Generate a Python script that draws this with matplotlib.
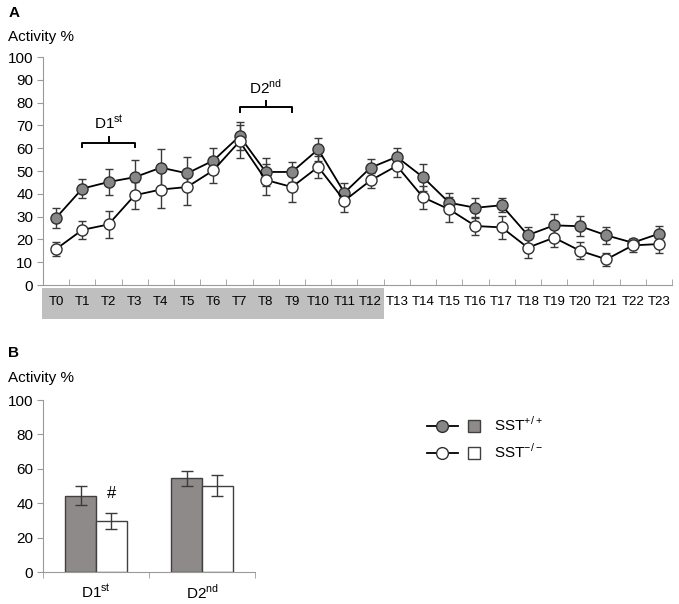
import matplotlib
matplotlib.use("Agg")
import matplotlib.pyplot as plt
import numpy as np
from matplotlib.lines import Line2D
from matplotlib.patches import Rectangle
from matplotlib.legend_handler import HandlerTuple
import matplotlib.transforms as mtransforms

plt.rcParams["font.family"] = ["Liberation Sans", "DejaVu Sans"]
plt.rcParams["mathtext.fontset"] = "custom"
plt.rcParams["mathtext.rm"] = "Liberation Sans"

# time points T0..T23
hours = [f"T{i}" for i in range(24)]
wt_mean = [29.5, 42.3, 45.2, 47.3, 51.5, 49.0, 54.6, 65.3, 49.6, 49.6, 59.5, 40.5,
           51.5, 56.2, 47.3, 36.1, 33.9, 35.0, 21.9, 26.2, 25.8, 21.8, 18.6, 22.5]
wt_err = [4.4, 4.2, 5.6, 7.5, 8.0, 7.0, 5.4, 6.2, 6.0, 4.2, 5.0, 4.4,
          4.0, 3.8, 6.0, 4.4, 4.4, 3.0, 3.7, 5.0, 4.4, 3.7, 1.5, 3.4]
ko_mean = [15.8, 24.2, 26.6, 39.4, 41.9, 43.0, 50.3, 63.0, 46.1, 43.0, 51.8, 37.0,
           45.9, 52.3, 38.5, 33.2, 25.9, 25.3, 16.4, 20.8, 15.0, 11.3, 17.4, 18.0]
ko_err = [3.2, 4.0, 5.8, 6.0, 8.0, 7.7, 5.7, 7.2, 6.8, 6.6, 5.0, 5.0,
          3.2, 4.8, 5.0, 5.4, 4.0, 5.0, 4.5, 4.0, 3.7, 2.8, 2.9, 4.0]
shaded_until = 12          # grey band under T0..T12
d1_range = (1, 3)          # D1st = T1..T3
d2_range = (7, 9)          # D2nd = T7..T9

# bar summary
periods = [r"D1$^{\mathregular{st}}$", r"D2$^{\mathregular{nd}}$"]
bar_wt = [44.5, 54.5]
bar_wt_err = [5.4, 4.4]
bar_ko = [30.0, 50.3]
bar_ko_err = [4.6, 6.0]

DOT_GREY = "#878787"
BAR_GREY = "#8f8a8a"
ERR_COL = "#3a3a3a"
SPINE = "#9a9a9a"

fig = plt.figure(figsize=(6.79, 6.04), dpi=100)

# ---------------- panel A ----------------
ax = fig.add_axes([0.0633, 0.528, 0.9264, 0.3776])
x = np.arange(len(hours))
ax.errorbar(x, wt_mean, yerr=wt_err, fmt="none", ecolor=ERR_COL, elinewidth=1, capsize=3, zorder=2)
ax.errorbar(x, ko_mean, yerr=ko_err, fmt="none", ecolor=ERR_COL, elinewidth=1, capsize=3, zorder=2)
ax.plot(x, wt_mean, "-o", color="black", lw=1.3, ms=8, mfc=DOT_GREY, mec="#303030", mew=1, zorder=3)
ax.plot(x, ko_mean, "-o", color="black", lw=1.3, ms=8, mfc="white", mec="#303030", mew=1, zorder=3)

ax.set_xlim(-0.5, len(hours) - 0.5)
ax.set_ylim(0, 100)
ax.set_yticks(range(0, 101, 10))
ax.set_xticks(x)
ax.set_xticklabels(hours, fontsize=9.5)
ax.set_xticks(np.arange(-0.5, len(hours)), minor=True)
ax.tick_params(axis="x", which="major", length=0, pad=8)
ax.tick_params(axis="x", which="minor", direction="in", length=4, color=SPINE)
ax.tick_params(axis="y", labelsize=11, length=4, color=SPINE, pad=3)
for s in ["top", "right"]:
    ax.spines[s].set_visible(False)
for s in ["left", "bottom"]:
    ax.spines[s].set_color(SPINE)

band = mtransforms.blended_transform_factory(ax.transData, ax.transAxes)
ax.add_patch(Rectangle((-0.55, -0.148), shaded_until + 1.05, 0.135, transform=band,
                       facecolor="#bfbfbf", edgecolor="none", clip_on=False, zorder=0))

def bracket(a, b, y, label):
    mid = (a + b) / 2
    ax.plot([a, a, b, b], [y - 2, y, y, y - 2], color="black", lw=1.4, clip_on=False)
    ax.plot([mid, mid], [y, y + 2.5], color="black", lw=1.4)
    ax.text(mid, y + 8.5, label, ha="center", va="center", fontsize=11)

bracket(*d1_range, 62.5, periods[0])
bracket(*d2_range, 78.0, periods[1])

fig.text(0.012, 0.978, "A", fontsize=11, fontweight="bold", va="center")
fig.text(0.012, 0.938, "Activity %", fontsize=11, va="center")

# ---------------- panel B ----------------
bx = fig.add_axes([0.0633, 0.0525, 0.3122, 0.2852])
xb = np.arange(len(periods))
w = 0.29
bx.bar(xb - w / 2, bar_wt, w, yerr=bar_wt_err, color=BAR_GREY, edgecolor="#404040", lw=1,
       error_kw=dict(ecolor=ERR_COL, elinewidth=1, capsize=4))
bx.bar(xb + w / 2, bar_ko, w, yerr=bar_ko_err, color="white", edgecolor="#404040", lw=1,
       error_kw=dict(ecolor=ERR_COL, elinewidth=1, capsize=4))
bx.text(xb[0] + w / 2, bar_ko[0] + bar_ko_err[0] + 11, "#", ha="center", va="center", fontsize=12)
bx.set_xlim(-0.5, 1.5)
bx.set_ylim(0, 100)
bx.set_yticks(range(0, 101, 20))
bx.set_xticks(xb)
bx.set_xticklabels(periods, fontsize=11)
bx.set_xticks([-0.5, 0.5, 1.5], minor=True)
bx.tick_params(axis="x", which="major", length=0, pad=8)
bx.tick_params(axis="x", which="minor", direction="out", length=4, color=SPINE)
bx.tick_params(axis="y", labelsize=11, length=4, color=SPINE, pad=3)
for s in ["top", "right"]:
    bx.spines[s].set_visible(False)
for s in ["left", "bottom"]:
    bx.spines[s].set_color(SPINE)

fig.text(0.012, 0.415, "B", fontsize=11, fontweight="bold", va="center")
fig.text(0.012, 0.374, "Activity %", fontsize=11, va="center")

# legend
wt_h = (Line2D([], [], color="black", lw=1.3, marker="o", ms=8.5, mfc=DOT_GREY, mec="#303030"),
        Line2D([], [], ls="none", marker="s", ms=9, mfc=BAR_GREY, mec="#404040"))
ko_h = (Line2D([], [], color="black", lw=1.3, marker="o", ms=8.5, mfc="white", mec="#303030"),
        Line2D([], [], ls="none", marker="s", ms=9, mfc="white", mec="#404040"))
fig.legend([wt_h, ko_h], [r"SST$^{\mathregular{+/+}}$", r"SST$^{\mathregular{-/-}}$"],
           handler_map={tuple: HandlerTuple(ndivide=None, pad=0.05)},
           loc="upper left", bbox_to_anchor=(0.608, 0.335), frameon=False,
           fontsize=11, handlelength=4.1, handletextpad=0.3, labelspacing=0.55)

fig.savefig("out.png", dpi=100)
